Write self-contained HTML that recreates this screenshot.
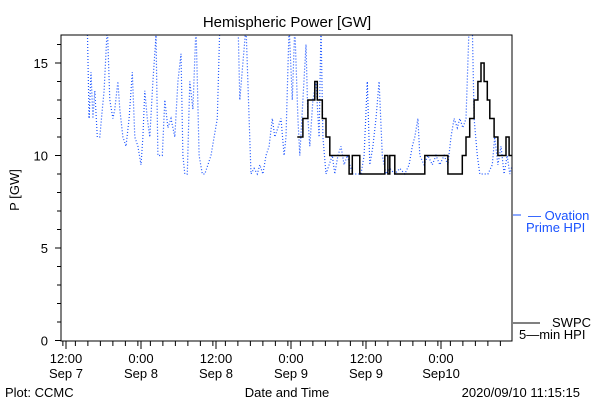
<!DOCTYPE html>
<html><head><meta charset="utf-8"><style>
body{margin:0;background:#fff;}
svg{display:block;font-family:"Liberation Sans",sans-serif;}
</style></head><body>
<svg id="chart" width="600" height="400" viewBox="0 0 600 400" xmlns="http://www.w3.org/2000/svg">
<rect x="0" y="0" width="600" height="400" fill="#fff"/>
<text x="287" y="27" font-size="15" text-anchor="middle" fill="#000">Hemispheric Power [GW]</text>
<text x="19" y="190" font-size="13" text-anchor="middle" fill="#000" transform="rotate(-90 19 190)">P [GW]</text>
<defs><clipPath id="plotclip"><rect x="61" y="35" width="451" height="306"/></clipPath></defs>
<g id="ticks"></g>
<g id="series" clip-path="url(#plotclip)"></g>
<rect x="61" y="35" width="451" height="306" fill="none" stroke="#000" stroke-width="1"/>
<g>
<line x1="513" y1="215" x2="521" y2="215" stroke="#1a53ff" stroke-width="1"/>
<text x="528" y="220" font-size="13" fill="#1a53ff">— Ovation</text>
<text x="526" y="232" font-size="13" fill="#1a53ff">Prime HPI</text>
<line x1="513" y1="323" x2="540" y2="323" stroke="#000" stroke-width="1"/>
<text x="552" y="327" font-size="13" fill="#000">SWPC</text>
<text x="519" y="339" font-size="13" fill="#000">5—min HPI</text>
</g>
<text x="5" y="397" font-size="13" fill="#000">Plot: CCMC</text>
<text x="287" y="397" font-size="13" text-anchor="middle" fill="#000">Date and Time</text>
<text x="580" y="397" font-size="13" text-anchor="end" fill="#000">2020/09/10 11:15:15</text>
</svg>
<script>
// hours since 2020-09-07 12:00
const blueHours = [3.4,3.7,4,4.3,4.6,5,5.4,5.8,6.1,6.6,7,7.5,7.8,8.3,8.6,9.1,9.6,10.1,10.6,11,11.5,12,12.3,12.6,13,13.4,13.9,14.4,14.7,15.4,15.8,16.3,16.8,17.4,17.9,18.4,18.7,19,19.4,19.8,20.3,20.8,21.3,21.8,22.2,22.7,23.2,23.7,24.2,24.6,27.5,27.8,28.3,28.8,29.3,29.6,30.1,30.6,31,31.5,32,32.5,33,33.4,33.9,34.4,34.9,35.2,35.7,36.2,36.6,37.1,37.4,37.9,38.4,38.7,39,39.5,40,40.5,40.8,41.1,41.6,42.1,42.6,43,43.5,44,44.5,45,45.4,45.9,46.6,47.2,47.7,48.2,48.6,49.1,49.6,50.1,50.6,51.2,51.8,52.6,53.4,54.2,54.9,55.4,55.8,56.3,56.6,57.3,57.9,58.6,59.2,59.8,60.5,61.1,61.6,62.1,62.6,63,63.5,64,64.5,65,65.3,65.8,66.2,66.9,67.5,68.2,68.6,69.1,69.6,70.1,70.6,71,71.4];
const blueValues = [17,12,14.5,12,13.5,11,11,12.5,13.5,17,13,12,12.5,14,12.5,11,10.5,12,14.5,11,10.5,9.5,11,13.5,12,11,14,16.5,10,10,13,11.5,12,11,14,15.5,10,9,9,14,12.5,17,10,9,9,9.5,10,11,12,17,17.5,13,15,17,12,9,9.3,9,9.5,9,10,10.5,12,11,11.5,12,10,11,17,13,17,12,10,13,16,12,10.5,13,14,11,17,11,9,9.5,10,9,10,10.5,9.5,10,9.5,9,9,9,10,14,9.5,10.5,12,14,10,9,9.3,9,9.3,9,9.5,10.5,11,12,10,9.5,10,9.5,10,9.5,10,9.5,11,12,11.5,12,11.5,12,17,17,12,10,9,9,9,9.5,11,9.5,10.5,9,10,9,9.5];
const swpcHours = [37,37.9,38.7,39.8,40.2,41,41.6,42.2,45.3,45.8,47,51,51.5,51.8,52.6,57.4,61.1,63.4,64,64.6,65.3,65.9,66.4,66.9,67.4,67.8,68.5,69.1,70.4,70.9,71.4];
const swpcValues = [11,12,13,14,13,12,11,10,9,10,9,10,9,10,9,10,9,10,11,12,13,14,15,14,13,12,11,10,11,10,10];
const yTickValues = [0,5,10,15];
const xTickHours = [0,12,24,36,48,60];
const xTickTimes = ["12:00","0:00","12:00","0:00","12:00","0:00"];
const xTickDates = ["Sep 7","Sep 8","Sep 8","Sep 9","Sep 9","Sep10"];

const NS="http://www.w3.org/2000/svg";
const xOf = h => 66 + h*6.25;
const yOf = v => 340.5 - v*18.5;
function mk(tag, attrs, parent){const e=document.createElementNS(NS,tag);for(const k in attrs)e.setAttribute(k,attrs[k]);parent.appendChild(e);return e;}
const ticks=document.getElementById('ticks');
const series=document.getElementById('series');
// y ticks
for(let v=0; v<=16; v++){
  const len = (v%5===0)?6:4;
  const t=mk('line',{x1:61-len,y1:yOf(v),x2:61,y2:yOf(v),stroke:'#000','stroke-width':1},ticks);
  
  
}
yTickValues.forEach(v=>{
  const t=mk('text',{x:48,y:yOf(v)+5,'font-size':13,'text-anchor':'end',fill:'#000'},ticks);
  t.textContent=String(v);
  
  
});
// x ticks, every 2 hours
for(let h=-0.5; xOf(h)<=512; h+=2){
  const major = xTickHours.includes(h);
  const t=mk('line',{x1:xOf(h),y1:341,x2:xOf(h),y2:341+(major?8:5),stroke:'#000','stroke-width':1},ticks);
  
  
}
xTickHours.forEach((h,i)=>{
  const t=mk('line',{x1:xOf(h),y1:341,x2:xOf(h),y2:349,stroke:'#000','stroke-width':1},ticks);
  
  
  const a=mk('text',{x:xOf(h),y:363,'font-size':13,'text-anchor':'middle',fill:'#000'},ticks);
  a.textContent=xTickTimes[i];
  
  
  const b=mk('text',{x:xOf(h),y:378,'font-size':13,'text-anchor':'middle',fill:'#000'},ticks);
  b.textContent=xTickDates[i];
  
  
});
// blue dotted series
let pts=blueHours.map((h,i)=>xOf(h).toFixed(1)+','+yOf(blueValues[i]).toFixed(1)).join(' ');
const bl=mk('polyline',{points:pts,fill:'none',stroke:'#1a53ff','stroke-width':1.2,'stroke-dasharray':'1 2'},series);


// black step series
let sp=[];
for(let i=0;i<swpcHours.length;i++){
  if(i>0) sp.push(xOf(swpcHours[i]).toFixed(1)+','+yOf(swpcValues[i-1]).toFixed(1));
  sp.push(xOf(swpcHours[i]).toFixed(1)+','+yOf(swpcValues[i]).toFixed(1));
}
const kl=mk('polyline',{points:sp.join(' '),fill:'none',stroke:'#000','stroke-width':1.5},series);


</script>
</body></html>
